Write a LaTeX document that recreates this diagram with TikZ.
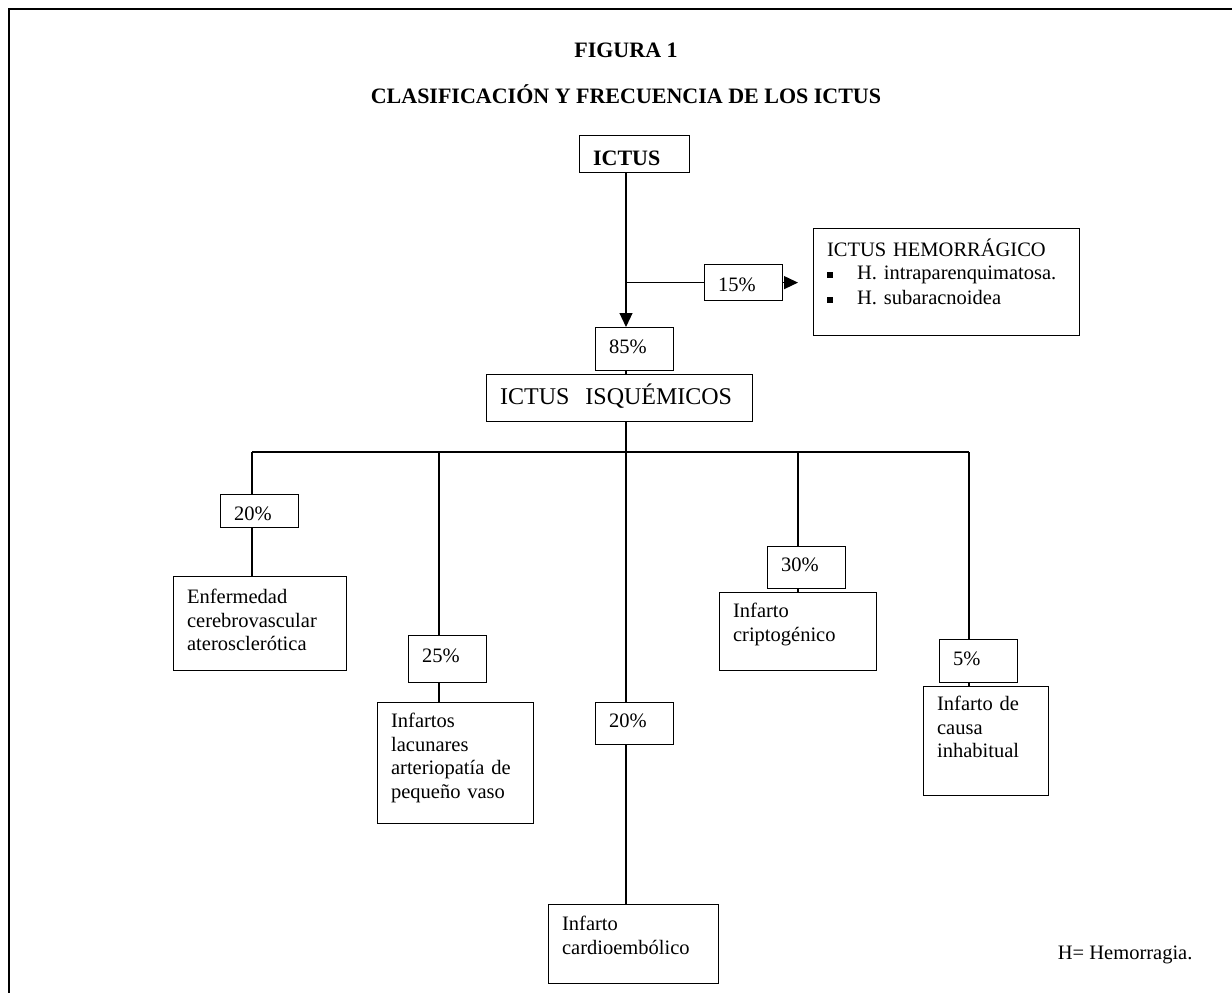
\documentclass[tikz,border=0pt]{standalone}
\usepackage{fontspec}
\setmainfont{Liberation Serif}
\usetikzlibrary{positioning,arrows.meta}

\begin{document}
\begin{tikzpicture}[x=1pt, y=-1pt, line width=1.2pt,
    every node/.style={font=\fontsize{20.5}{23.5}\selectfont},
    box/.style={draw, anchor=north west, align=left, inner xsep=13.5pt, inner ysep=0pt},
    pct/.style={box, text width=51pt},
    arr/.style={-{Triangle[length=14pt,width=13pt]}}]
  \useasboundingbox (0,0) rectangle (1232,993);
  \draw[line width=2.7pt] (9,993) -- (9,9) -- (1232,9);

  \node[anchor=base, font=\fontsize{22}{26}\selectfont\bfseries] (fig) at (626,57) {FIGURA 1};
  \node[anchor=base, font=\fontsize{22}{26}\selectfont\bfseries] (title) at (626,103) {CLASIFICACIÓN Y FRECUENCIA DE LOS ICTUS};

  \node[box, text width=83pt, text height=30pt, text depth=7pt, font=\fontsize{22}{26}\selectfont\bfseries] (ictus) at (579,135) {ICTUS};
  \node[pct, text height=27pt, text depth=9pt] (p15) at (704,264) {15\%};
  \node[box, text width=239pt, text height=28pt, text depth=79pt] (hem) at (813,228)
    {ICTUS HEMORRÁGICO\\[-1pt]
     \raisebox{1.5pt}{\rule{5.5pt}{5.5pt}}\hspace{24.5pt}H. intraparenquimatosa.\\[1.5pt]
     \raisebox{1.5pt}{\rule{5.5pt}{5.5pt}}\hspace{24.5pt}H. subaracnoidea};
  \node[pct, text height=26pt, text depth=17pt] (p85) at (595,327) {85\%};
  \node[box, text width=239pt, text height=30pt, text depth=17pt, font=\fontsize{24}{28}\selectfont] (isq) at (486,374) {ICTUS\ \ ISQUÉMICOS};

  \coordinate (b1) at (252,452);
  \coordinate (b2) at (439,452);
  \coordinate (b3) at (626,452);
  \coordinate (b4) at (798,452);
  \coordinate (b5) at (969,452);

  \node[pct, text height=26pt, text depth=7pt] (p20a) at (220,494) {20\%};
  \node[box, text width=146pt, text height=27pt, text depth=67pt] (enf) at (173,576) {Enfermedad\\cerebrovascular\\aterosclerótica};
  \node[pct, text height=27pt, text depth=20pt] (p25) at (408,635) {25\%};
  \node[box, text width=129pt, text height=25pt, text depth=96pt] (inf) at (377,702) {Infartos\\lacunares\\arteriopatía de\\pequeño vaso};
  \node[pct, text height=25pt, text depth=17pt] (p20b) at (595,702) {20\%};
  \node[box, text width=143pt, text height=26pt, text depth=53pt] (car) at (548,904) {Infarto\\cardioembólico};
  \node[pct, text height=25pt, text depth=17pt] (p30) at (767,546) {30\%};
  \node[box, text width=130pt, text height=25pt, text depth=53pt] (cri) at (719,592) {Infarto\\criptogénico};
  \node[pct, text height=26pt, text depth=17pt] (p5) at (939,639) {5\%};
  \node[box, text width=98pt, text height=24pt, text depth=85pt] (inh) at (923,686) {Infarto de\\causa\\inhabitual};

  \node[anchor=base west] (nota) at (1054,959) {H= Hemorragia.};

  \draw[arr] (ictus.south -| b3) -- (p85.north -| b3);
  \draw (p15.west -| b3) -- (p15.west);
  \draw[arr, shorten >=15pt] (p15.east) -- (p15.east -| hem.west);
  \draw (p85.south -| b3) -- (isq.north -| b3);
  \draw (isq.south -| b3) -- (b3);
  \draw (b1) -- (b5);

  \draw (b1) -- (p20a.north -| b1);
  \draw (p20a.south -| b1) -- (enf.north -| b1);
  \draw (b2) -- (p25.north -| b2);
  \draw (p25.south -| b2) -- (inf.north -| b2);
  \draw (b3) -- (p20b.north -| b3);
  \draw (p20b.south -| b3) -- (car.north -| b3);
  \draw (b4) -- (p30.north -| b4);
  \draw (p30.south -| b4) -- (cri.north -| b4);
  \draw (b5) -- (p5.north -| b5);
  \draw (p5.south -| b5) -- (inh.north -| b5);
\end{tikzpicture}
\end{document}
